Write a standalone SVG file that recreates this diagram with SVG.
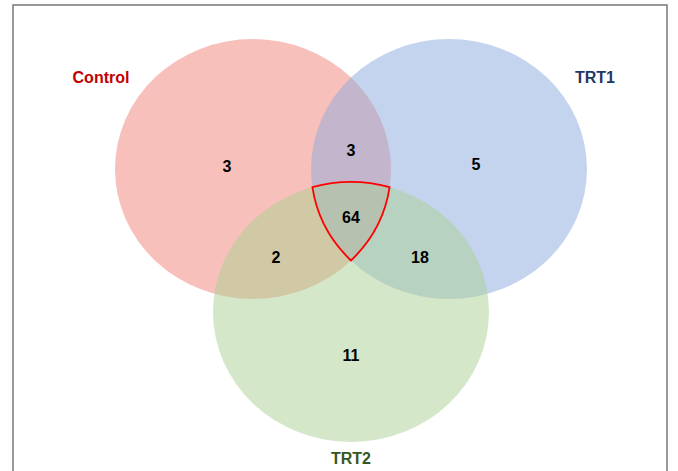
<svg xmlns="http://www.w3.org/2000/svg" width="678" height="471" viewBox="0 0 678 471">
<style>
.num{font-family:"Liberation Sans",Arial,sans-serif;font-weight:bold;font-size:16px;fill:#000;text-anchor:middle}
.lbl{font-family:"Liberation Sans",Arial,sans-serif;font-weight:bold;font-size:16px;text-anchor:middle}
</style>
<rect x="0" y="0" width="678" height="471" fill="#fff"/>
<rect x="13" y="5" width="654" height="480" fill="none" stroke="#808080" stroke-width="1.6"/>
<g id="control">
<ellipse cx="253" cy="169" rx="138" ry="130" fill="#f18177" fill-opacity="0.5"/>
<text class="lbl" x="101" y="83" fill="#c00000">Control</text>
</g>
<g id="trt1">
<ellipse cx="449" cy="169" rx="138" ry="130" fill="#8ba9dd" fill-opacity="0.5"/>
<text class="lbl" x="595" y="83" fill="#1f3864">TRT1</text>
</g>
<g id="trt2">
<ellipse cx="351" cy="312" rx="138" ry="130" fill="#a9cf91" fill-opacity="0.5"/>
<text class="lbl" x="351" y="464" fill="#375623">TRT2</text>
</g>
<g id="connectors">
<path d="M312.4 187.2 A138 130 0 0 1 389.6 187.2 A138 130 0 0 1 351 260.5 A138 130 0 0 1 312.4 187.2 Z" fill="none" stroke="#ff0000" stroke-width="1.8" stroke-linejoin="miter"/>
</g>
<g id="counts">
<text class="num" x="227" y="172">3</text>
<text class="num" x="351" y="156">3</text>
<text class="num" x="476" y="170">5</text>
<text class="num" x="351" y="223">64</text>
<text class="num" x="276" y="263">2</text>
<text class="num" x="420" y="263">18</text>
<text class="num" x="351" y="361">11</text>
</g>
</svg>
